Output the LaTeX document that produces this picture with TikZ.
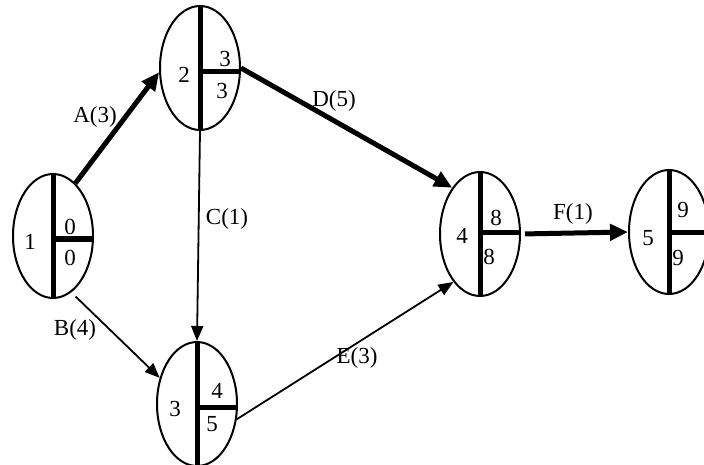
\documentclass[tikz,border=0pt]{standalone}
\usepackage{fontspec}
\setmainfont{Liberation Serif}
\usetikzlibrary{shapes.geometric, arrows.meta}
\begin{document}
\begin{tikzpicture}[x=1pt,y=1pt,
  every node/.style={font=\fontsize{23}{26}\selectfont},
  evt/.style={ellipse, draw, line width=2pt, minimum width=80pt, minimum height=124pt, inner sep=0pt},
  bar/.style={line width=5pt},
  lbl/.style={inner sep=0pt},
  crit/.style={line width=5pt, -{Triangle[length=18pt,width=16pt]}},
  act/.style={line width=1.8pt, -{Triangle[length=15pt,width=12pt]}}]
\path[use as bounding box, fill=white] (0,0) rectangle (704,-465);
\clip (0,0) rectangle (704,-465);

% events
\node[evt] (n1) at (53,-236) {};
\node[evt] (n2) at (200,-68) {};
\node[evt] (n3) at (197,-404) {};
\node[evt] (n4) at (480,-234) {};
\node[evt] (n5) at (669,-232) {};
\foreach \n/\d in {n1/-3,n2/-4,n3/-3,n4/1,n5/-1}{
  \draw[bar] (\n.north) -- (\n.south);
  \draw[bar] ([yshift=\d pt]\n.center) -- ([yshift=\d pt]\n.east);
}

% event texts
\node[lbl] (t1) at (30,-242) {1};
\node[lbl] (t1a) at (70,-227) {0};
\node[lbl] (t1b) at (70,-258) {0};
\node[lbl] (t2) at (184,-75) {2};
\node[lbl] (t2a) at (225,-59) {3};
\node[lbl] (t2b) at (222,-91) {3};
\node[lbl] (t3) at (175,-409) {3};
\node[lbl] (t3a) at (217,-391) {4};
\node[lbl] (t3b) at (212,-424) {5};
\node[lbl] (t4) at (462,-236) {4};
\node[lbl] (t4a) at (496,-218) {8};
\node[lbl] (t4b) at (489,-257) {8};
\node[lbl] (t5) at (648,-238) {5};
\node[lbl] (t5a) at (683,-210) {9};
\node[lbl] (t5b) at (678,-258) {9};

% activities
\draw[crit] (n1.67) -- (n2.186);
\draw[crit] (n2.east) -- (n4.121);
\draw[act] (n2.south) -- (n3.north);
\draw[act, shorten <=6pt] (n1.-72) -- (n3.145);
\draw[act] (n3.-21) -- (n4.241);
\draw[crit, shorten <=4pt] (n4.east) -- (n5.west);

% activity labels
\node[lbl] (la) at (95,-117) {A(3)};
\node[lbl] (ld) at (334,-101) {D(5)};
\node[lbl] (lc) at (227,-219) {C(1)};
\node[lbl] (lb) at (75,-330) {B(4)};
\node[lbl] (le) at (357,-358) {E(3)};
\node[lbl] (lf) at (573,-214) {F(1)};
\end{tikzpicture}
\end{document}
